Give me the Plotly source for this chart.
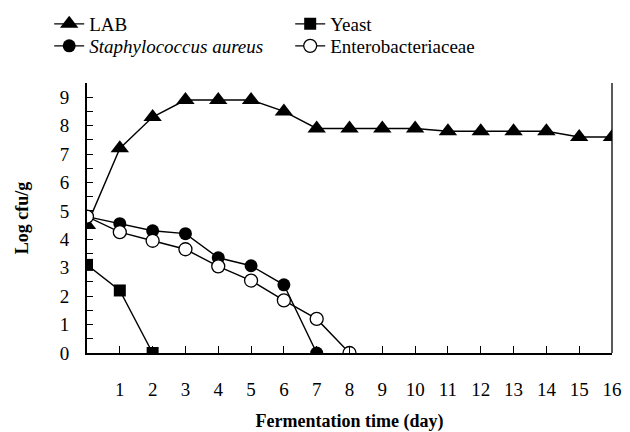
import plotly.graph_objects as go

days = list(range(0, 17))
lab = [4.5, 7.2, 8.3, 8.9, 8.9, 8.9, 8.5, 7.9, 7.9, 7.9, 7.9, 7.8, 7.8, 7.8, 7.8, 7.6, 7.6]
yeast_days = [0, 1, 2]
yeast = [3.1, 2.2, 0]
staph_days = [0, 1, 2, 3, 4, 5, 6, 7]
staph = [4.8, 4.55, 4.3, 4.2, 3.35, 3.07, 2.4, 0]
entero_days = [0, 1, 2, 3, 4, 5, 6, 7, 8]
entero = [4.8, 4.25, 3.95, 3.65, 3.05, 2.55, 1.85, 1.2, 0]

x_ticks = list(range(1, 17))
y_ticks = list(range(0, 10))

FONT = "Liberation Serif"
LW = 1.4

fig = go.Figure()
fig.add_trace(go.Scatter(x=days, y=lab, name="LAB", mode="lines+markers", legend="legend",
                         line=dict(color="black", width=LW),
                         marker=dict(symbol="triangle-up", size=16, color="black")))
fig.add_trace(go.Scatter(x=yeast_days, y=yeast, name="Yeast", mode="lines+markers", legend="legend",
                         line=dict(color="black", width=LW),
                         marker=dict(symbol="square", size=12, color="black")))
fig.add_trace(go.Scatter(x=staph_days, y=staph, name="<i>Staphylococcus aureus</i>", mode="lines+markers",
                         legend="legend2",
                         line=dict(color="black", width=LW),
                         marker=dict(symbol="circle", size=13, color="black")))
fig.add_trace(go.Scatter(x=entero_days, y=entero, name="Enterobacteriaceae", mode="lines+markers",
                         legend="legend2",
                         line=dict(color="black", width=LW),
                         marker=dict(symbol="circle", size=13, color="white",
                                     line=dict(color="black", width=1.3))))

leg_common = dict(orientation="h", xanchor="left", yanchor="middle",
                  entrywidth=196, entrywidthmode="pixels",
                  font=dict(family=FONT, size=19, color="black"),
                  bgcolor="rgba(0,0,0,0)", tracegroupgap=0, itemwidth=30)

fig.update_layout(
    width=630, height=432,
    margin=dict(l=87, r=18, t=83, b=79, autoexpand=False),
    paper_bgcolor="white", plot_bgcolor="white",
    font=dict(family=FONT, size=19, color="black"),
    showlegend=True,
    # legend row centres: ~24 px and ~46 px from top; plot area spans 83..353 px
    legend=dict(x=-0.072, y=1 + (83 - 24) / 270, **leg_common),
    legend2=dict(x=-0.072, y=1 + (83 - 46) / 270, **leg_common),
    xaxis=dict(range=[0, 16], tickvals=x_ticks, ticktext=[str(v) for v in x_ticks],
               ticks="inside", ticklen=7, tickwidth=1.3, tickcolor="black",
               showline=True, linecolor="black", linewidth=2, showgrid=False, zeroline=False,
               ticklabelstandoff=18, tickfont=dict(family=FONT, size=19),
               title=dict(text="<b>Fermentation time (day)</b>", font=dict(family=FONT, size=18),
                          standoff=20)),
    yaxis=dict(range=[0, 9.5], tickvals=y_ticks, ticktext=[str(v) for v in y_ticks],
               ticks="inside", ticklen=6, tickwidth=1.3, tickcolor="black",
               minor=dict(dtick=0.5, ticks="inside", ticklen=6, tickwidth=1.3, tickcolor="black"),
               showline=True, linecolor="black", linewidth=2, showgrid=False, zeroline=False,
               ticklabelstandoff=12, tickfont=dict(family=FONT, size=19),
               title=dict(text="<b>Log cfu/g</b>", font=dict(family=FONT, size=18), standoff=26)),
)

fig.add_shape(type="line", xref="paper", yref="paper", x0=1, x1=1, y0=0, y1=1,
              line=dict(color="black", width=1.3))

fig.write_html("out.html")
